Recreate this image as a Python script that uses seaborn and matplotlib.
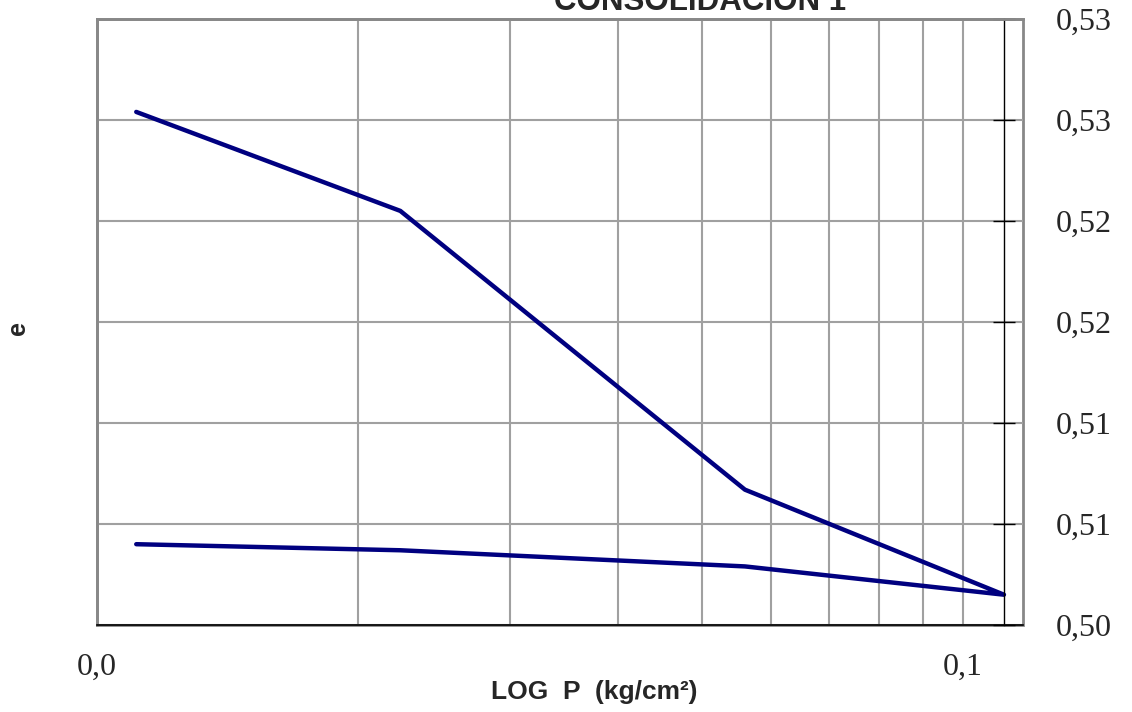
import matplotlib
matplotlib.use("Agg")
import matplotlib.pyplot as plt
from matplotlib.patches import Rectangle
from matplotlib.ticker import FixedLocator, NullFormatter
import seaborn as sns
import pandas as pd

# load / unload path of the consolidation test
pressure = [0.0111, 0.0224, 0.0560, 0.1115, 0.0560, 0.0224, 0.0111]
void_ratio = [0.5254, 0.5205, 0.5067, 0.5015, 0.5029, 0.5037, 0.5040]

y_ticks = [0.500, 0.505, 0.510, 0.515, 0.520, 0.525, 0.530]
y_labels = ["0,50", "0,51", "0,51", "0,52", "0,52", "0,53", "0,53"]
x_ticks = [0.01, 0.1]
x_labels = ["0,0", "0,1"]
x_minor = [0.02, 0.03, 0.04, 0.05, 0.06, 0.07, 0.08, 0.09]

df = pd.DataFrame({"P": pressure, "e": void_ratio})

sns.set_style("white")
plt.rcParams["font.family"] = ["Liberation Sans", "DejaVu Sans"]

fig = plt.figure(figsize=(11.32, 7.12), dpi=100)
W, H = 1132, 712
ax = fig.add_axes([97 / W, (H - 625) / H, (1023 - 97) / W, (625 - 19) / H])

sns.lineplot(data=df, x="P", y="e", sort=False, estimator=None,
             color="#000080", linewidth=3.2, ax=ax)

ax.set_xscale("log")
ax.set_xlim(0.01, 10 ** (-2 + 926 / 866))
ax.set_ylim(0.500, 0.530)

# grid
ax.xaxis.set_major_locator(FixedLocator(x_ticks))
ax.xaxis.set_minor_locator(FixedLocator(x_minor))
ax.xaxis.set_minor_formatter(NullFormatter())
ax.set_xticklabels(x_labels)
ax.set_yticks(y_ticks)
ax.set_yticklabels(y_labels)
ax.grid(True, which="both", color="#a0a0a0", linewidth=1.5)
ax.set_axisbelow(True)

# axes: black y axis inside the frame, gray frame around
for s in ["left", "top"]:
    ax.spines[s].set_color("#888888")
    ax.spines[s].set_linewidth(2)
ax.spines["bottom"].set_color("black")
ax.spines["bottom"].set_linewidth(1.2)
ax.spines["right"].set_position(("data", 0.1115))
ax.spines["right"].set_color("black")
ax.spines["right"].set_linewidth(1)
ax.add_patch(Rectangle((0, 0), 1, 1, transform=ax.transAxes, fill=False,
                       edgecolor="#888888", linewidth=2, clip_on=False, zorder=0))

ax.yaxis.tick_right()
ax.tick_params(axis="y", which="major", direction="inout", length=16, width=1,
               color="black", pad=29, labelsize=23, labelfontfamily="Liberation Serif")
ax.tick_params(axis="x", which="major", direction="inout", length=16, width=1,
               color="black", pad=12, labelsize=23, labelfontfamily="Liberation Serif")
ax.tick_params(axis="x", which="minor", length=0)
ax.set_xlabel("")
ax.set_ylabel("")

fig.text(594 / W, 1 - 692 / H, "LOG  P  (kg/cm²)", ha="center", va="center",
         fontsize=19, fontweight="bold")
fig.text(18 / W, 1 - 328 / H, "e", ha="center", va="center", rotation=90,
         fontsize=18, fontweight="bold")
fig.text(700 / W, 1 - 10 / H, "CONSOLIDACIÓN 1", ha="center", va="baseline",
         fontsize=22.5, fontweight="bold")

fig.savefig("out.png", dpi=100)
